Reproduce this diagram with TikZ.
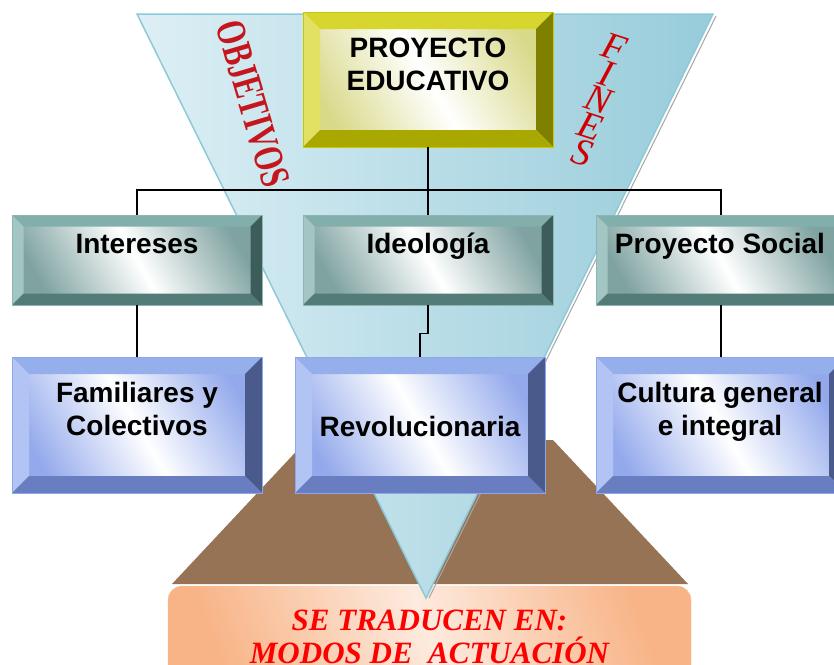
\documentclass[tikz,border=0pt]{standalone}
\usepackage{fontspec}
\setmainfont{Liberation Serif}
\setsansfont{Liberation Sans}
\usetikzlibrary{positioning}

\definecolor{triL}{HTML}{DDEFF5}
\definecolor{triR}{HTML}{97CCDA}
\definecolor{triE}{HTML}{8CCAD9}
\definecolor{brownbg}{HTML}{967355}
\definecolor{orgA}{HTML}{F8B487}
\definecolor{orgB}{HTML}{FDEBDF}
\definecolor{yelT}{HTML}{D7D62E}
\definecolor{yelL}{HTML}{E2E164}
\definecolor{yelR}{HTML}{7F7F00}
\definecolor{yelB}{HTML}{A9A800}
\definecolor{yelF}{HTML}{D9D98A}
\definecolor{yelE}{HTML}{C9C800}
\definecolor{teaT}{HTML}{82AFAB}
\definecolor{teaL}{HTML}{A3C6C4}
\definecolor{teaR}{HTML}{3D5D5B}
\definecolor{teaB}{HTML}{537C79}
\definecolor{teaF}{HTML}{7FA3A1}
\definecolor{teaE}{HTML}{8DB6B3}
\definecolor{bluT}{HTML}{95AEEC}
\definecolor{bluL}{HTML}{B2C4F4}
\definecolor{bluR}{HTML}{4A5A8B}
\definecolor{bluB}{HTML}{687EC0}
\definecolor{bluF}{HTML}{93A9EC}
\definecolor{bluE}{HTML}{8EA6EE}
\definecolor{objred}{HTML}{C4161C}
\definecolor{finred}{HTML}{D00000}

\newcommand\ppb{path picture bounding box}
\tikzset{bevel/.style n args={5}{path picture={
            \fill[#2] (\ppb.north west) -- (\ppb.north east) -- ([xshift=-#1,yshift=-#1]\ppb.north east) -- ([xshift=#1,yshift=-#1]\ppb.north west) -- cycle;
            \fill[#3] (\ppb.north west) -- ([xshift=#1,yshift=-#1]\ppb.north west) -- ([xshift=#1,yshift=#1]\ppb.south west) -- (\ppb.south west) -- cycle;
            \fill[#4] (\ppb.north east) -- ([xshift=-#1,yshift=-#1]\ppb.north east) -- ([xshift=-#1,yshift=#1]\ppb.south east) -- (\ppb.south east) -- cycle;
            \fill[#5] (\ppb.south west) -- ([xshift=#1,yshift=#1]\ppb.south west) -- ([xshift=-#1,yshift=#1]\ppb.south east) -- (\ppb.south east) -- cycle;}},
         yelbox/.style={rectangle,draw=yelE,line width=0.8pt,minimum width=250pt,minimum height=135pt,
            top color=yelF,bottom color=yelF,middle color=white,shading angle=-60,bevel={17pt}{yelT}{yelL}{yelR}{yelB}},
         teabox/.style={rectangle,draw=teaE,line width=0.8pt,minimum width=250pt,minimum height=90pt,
            top color=teaF,bottom color=teaF,middle color=white,shading angle=-60,bevel={11.5pt}{teaT}{teaL}{teaR}{teaB}},
         blubox/.style={rectangle,draw=bluE,line width=0.8pt,minimum width=250pt,minimum height=136pt,
            top color=bluF,bottom color=bluF,middle color=white,shading angle=-60,bevel={17pt}{bluT}{bluL}{bluR}{bluB}},
         boxtext/.style={font=\sffamily\bfseries\fontsize{28}{33}\selectfont,align=center,inner sep=0pt},
         modos/.style={rectangle,rounded corners=14pt,draw=orgA!80,minimum width=523pt,minimum height=102pt,
            top color=orgA,bottom color=orgA,middle color=orgB,shading angle=-70,
            text=red,font=\rmfamily\bfseries\itshape\fontsize{31}{33}\selectfont,align=center},
         objlet/.style={rotate=-73.5,text=objred,inner sep=0pt,font=\rmfamily\bfseries\fontsize{30}{30}\selectfont},
         fineslet/.style={rotate=-18,text=finred,inner sep=0pt,font=\rmfamily\itshape\fontsize{38}{38}\selectfont},
         conn/.style={black,line width=1.3pt},
}

\begin{document}
\begin{tikzpicture}[x=1pt,y=-1pt]

\useasboundingbox (0,0) rectangle (834,664);
\clip (0,0) rectangle (834,664);
\fill[white] (0,0) rectangle (834,664);

% fondo
\fill[brownbg] (307,440) -- (553,440) -- (688,584) -- (172,584) -- cycle;
\node[modos] (mod) at (429.5,637) {SE TRADUCEN EN:\\MODOS DE\ \ ACTUACIÓN};
\shade[left color=triL,right color=triR,draw=triE,line width=1.5pt] (137,14) -- (713,14) -- (426,598) -- cycle;
\draw[gray!70,line width=1pt] (716,16) -- (429,598);

\node[objlet] (obj) at (253,104) {\scalebox{1}[1.4]{OBJETIVOS}};
\foreach \l [count=\i from 0] in {F,I,N,E,S}
    \node[fineslet] (fin\i) at (614-8*\i,47+26.5*\i) {\l};

% cajas
\node[yelbox] (edu) at (428,79.5) {};
\node[teabox] (int) at (137,260) {};
\node[teabox] (ideo) at (428,260) {};
\node[teabox] (soc) at (721,260) {};
\node[blubox] (fam) at (137,425) {};
\node[blubox] (rev) at (420,425) {};
\node[blubox] (cul) at (721,425) {};

\coordinate (bus) at (428,190);
\draw[conn] (edu.south) -- (ideo.north);
\draw[conn] (int.north) |- (bus) -| (soc.north);
\draw[conn] (int) -- (fam);
\draw[conn] (soc) -- (cul);
\draw[conn] (ideo.south) -- ++(0pt,-28pt) -| (rev.north);

\node[boxtext] (eduT) at (428,64) {PROYECTO\\EDUCATIVO};
\node[boxtext,anchor=base] (intT) at (137,253) {Intereses};
\node[boxtext,anchor=base] (ideoT) at (428,253) {Ideología};
\node[boxtext,anchor=base] (socT) at (720,253) {Proyecto Social};
\node[boxtext] (famT) at (137,409) {Familiares y\\Colectivos};
\node[boxtext,anchor=base] (revT) at (420,436) {Revolucionaria};
\node[boxtext] (culT) at (720,412) {Cultura general\\e integral};
\end{tikzpicture}
\end{document}
